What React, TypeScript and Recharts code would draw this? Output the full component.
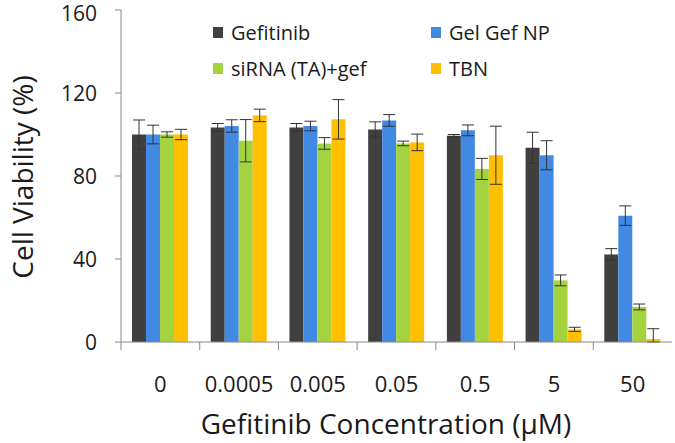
import { Bar, BarChart, ErrorBar, Legend, XAxis, YAxis } from "recharts";

const categories = ["0", "0.0005", "0.005", "0.05", "0.5", "5", "50"];
const gefitinib = [100, 103.4, 103.4, 102.4, 99.4, 93.6, 42.2];
const gefitinibErr = [7, 1.9, 1.9, 3.7, 0.6, 7.5, 2.8];
const gelGefNP = [100, 104.1, 104.1, 106.8, 102, 90, 60.9];
const gelGefNPErr = [4.5, 3, 2.3, 2.8, 2.6, 7, 4.7];
const sirnaGef = [100, 97, 95.7, 95.7, 83.4, 29.7, 16.9];
const sirnaGefErr = [1.3, 10.2, 2.8, 1.1, 5.1, 2.6, 1.4];
const tbn = [100, 109.2, 107.3, 96.2, 90, 6.1, 1.4];
const tbnErr: (number | number[])[] = [2.5, 3, 9.5, 4, 14, 1, [1.4, 5]];
const yTicks = [0, 40, 80, 120, 160];

const series = [
  { key: "gef", err: "gefErr", name: "Gefitinib", color: "#404040" },
  { key: "gel", err: "gelErr", name: "Gel Gef NP", color: "#4189e3" },
  { key: "sirna", err: "sirnaErr", name: "siRNA (TA)+gef", color: "#a5d33f" },
  { key: "tbn", err: "tbnErr", name: "TBN", color: "#ffc000" },
];

const data = categories.map((c, i) => ({
  conc: c,
  gef: gefitinib[i],
  gefErr: gefitinibErr[i],
  gel: gelGefNP[i],
  gelErr: gelGefNPErr[i],
  sirna: sirnaGef[i],
  sirnaErr: sirnaGefErr[i],
  tbn: tbn[i],
  tbnErr: tbnErr[i],
}));

const W = 675;
const H = 443;
const FONT = "'Open Sans', sans-serif";
const AXIS = "#888888";
const PLOT_LEFT = 121;
const PLOT_RIGHT = 672;
const BAND = (PLOT_RIGHT - PLOT_LEFT) / categories.length;

function XTick(props: any) {
  const { x, y, payload } = props;
  return (
    <g>
      <line x1={x - BAND / 2} x2={x - BAND / 2} y1={y} y2={y + 8} stroke={AXIS} />
      <text x={x} y={y + 41} textAnchor="middle" dominantBaseline="central" fontSize={22} fontFamily={FONT} fill="#1a1a1a">
        {payload.value}
      </text>
    </g>
  );
}

function LegendBox() {
  const cols = [213, 431];
  const rows = [32.5, 68.5];
  return (
    <div style={{ position: "relative", width: W, height: 90 }}>
      {series.map((s, i) => (
        <div
          key={s.key}
          style={{
            position: "absolute",
            left: cols[i % 2],
            top: rows[Math.floor(i / 2)] - 15,
            height: 30,
            display: "flex",
            alignItems: "center",
            fontFamily: FONT,
            fontSize: 20,
            color: "#1a1a1a",
            whiteSpace: "nowrap",
          }}
        >
          <span style={{ display: "inline-block", width: 10, height: 11, background: s.color, marginRight: 8 }} />
          {s.name}
        </div>
      ))}
    </div>
  );
}

export default function App() {
  return (
    <div style={{ position: "absolute", left: 0, top: 0, width: W, height: H, background: "#fff" }}>
      <BarChart
        width={W}
        height={H}
        data={data}
        margin={{ top: 10, right: W - PLOT_RIGHT, bottom: 0, left: 0 }}
        barGap={0}
        barCategoryGap="14%"
      >
        <XAxis
          dataKey="conc"
          height={101}
          stroke={AXIS}
          tickLine={false}
          tickSize={0}
          tickMargin={0}
          tick={<XTick />}
          interval={0}
          label={() => (
            <text x={386} y={434} textAnchor="middle" fontSize={28} fontFamily={FONT} fill="#1a1a1a">
              Gefitinib Concentration (µM)
            </text>
          )}
        />
        <XAxis xAxisId="top" dataKey="conc" orientation="top" height={0} tick={false} tickLine={false} stroke={AXIS} />
        <YAxis
          domain={[0, 160]}
          ticks={yTicks}
          width={PLOT_LEFT}
          stroke={AXIS}
          tickSize={6}
          tickMargin={18}
          tick={{ fontSize: 21, fontFamily: FONT, fill: "#1a1a1a", dy: 1 }}
          label={() => (
            <text
              x={0}
              y={0}
              transform="translate(22,177) rotate(-90)"
              textAnchor="middle"
              dominantBaseline="central"
              fontSize={28}
              fontFamily={FONT}
              fill="#1a1a1a"
            >
              Cell Viability (%)
            </text>
          )}
        />
        <YAxis yAxisId="right" orientation="right" width={0} tick={false} tickLine={false} stroke={AXIS} domain={[0, 160]} />
        <Legend verticalAlign="middle" wrapperStyle={{ top: 0, left: 0, width: W }} content={() => <LegendBox />} />
        {series.map((s) => (
          <Bar key={s.key} dataKey={s.key} name={s.name} fill={s.color} isAnimationActive={false}>
            <ErrorBar dataKey={s.err} width={6} stroke="#333" strokeWidth={1} />
          </Bar>
        ))}
      </BarChart>
    </div>
  );
}
